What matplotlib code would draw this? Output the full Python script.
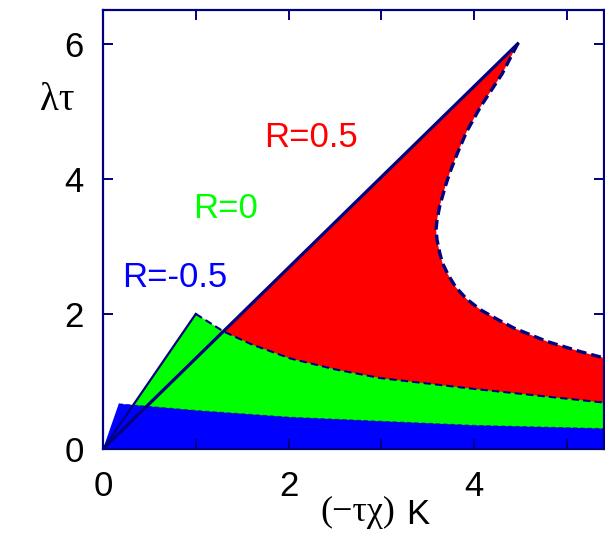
import matplotlib
matplotlib.use("Agg")
import matplotlib.pyplot as plt

# boundary of the R=0.5 region (dashed curve)
red_K = [4.47, 4.30, 4.07, 3.92, 3.82, 3.74, 3.69, 3.63, 3.60, 3.59, 3.60, 3.63,
         3.66, 3.72, 3.80, 3.92, 4.07, 4.25, 4.43, 4.79, 5.15, 5.45]
red_L = [6.00, 5.55, 5.07, 4.70, 4.38, 4.10, 3.89, 3.60, 3.39, 3.25, 3.10, 2.90,
         2.75, 2.58, 2.40, 2.22, 2.06, 1.92, 1.79, 1.59, 1.44, 1.33]

# upper boundary of the R=0 region
green_K = [1.00, 1.30, 1.60, 2.02, 2.50, 2.99, 4.00, 5.45]
green_L = [2.00, 1.74, 1.55, 1.34, 1.18, 1.05, 0.89, 0.68]

# upper boundary of the R=-0.5 region
blue_K = [0.17, 1.00, 2.02, 3.00, 4.00, 5.45]
blue_L = [0.67, 0.57, 0.47, 0.41, 0.35, 0.30]

navy = "#000080"
W, H = 605, 533

fig = plt.figure(figsize=(6.05, 5.33), dpi=100)
ax = fig.add_axes([103 / W, (H - 449) / H, 501 / W, 439 / H])

# filled regions, red under green under blue
ax.fill([0, red_K[0]] + red_K + [red_K[-1]], [0, red_L[0]] + red_L + [0],
        color="#ff0000", lw=0)
ax.fill([0] + green_K + [green_K[-1]], [0] + green_L + [0], color="#00ff00", lw=0)
ax.fill([0] + blue_K + [blue_K[-1]], [0] + blue_L + [0], color="#0000ff", lw=0)

# edges
ax.plot([0, green_K[0]], [0, green_L[0]], color=navy, lw=1.6)
ax.plot(red_K, red_L, color=navy, lw=2.4, dashes=(3, 1.5))
ax.plot(green_K, green_L, color=navy, lw=1.5, dashes=(3.5, 2))
ax.plot(blue_K, blue_L, color=navy, lw=0.8, dashes=(4, 2.5), alpha=0.6)
ax.plot([0, red_K[0]], [0, red_L[0]], color=navy, lw=2.3)

ax.set_xlim(0, 5.4)
ax.set_ylim(0, 6.5)
ax.set_xticks([0, 2, 4])
ax.set_xticks([1, 3, 5], minor=True)
ax.set_yticks([0, 2, 4, 6])
for s in ax.spines.values():
    s.set_color(navy)
    s.set_linewidth(1.6)
ax.tick_params(which="both", direction="in", length=7, width=1.4, color=navy,
               top=True, right=True, labelsize=25, labelcolor="black")
ax.tick_params(axis="x", pad=15)
ax.tick_params(axis="y", pad=14)
for lab in ax.get_xticklabels() + ax.get_yticklabels():
    lab.set_family("Liberation Sans")

def px(x, y):
    return x / W, 1 - y / H

fig.text(*px(264, 147), "R=0.5", color="#ff0000", fontsize=25,
         family="Liberation Sans", va="baseline")
fig.text(*px(193, 218), "R=0", color="#00ff00", fontsize=25,
         family="Liberation Sans", va="baseline")
fig.text(*px(122, 287), "R=-0.5", color="#0000ff", fontsize=25,
         family="Liberation Sans", va="baseline")

fig.text(*px(40, 110), "\u03bb\u03c4", fontsize=28, family="Liberation Serif",
         va="baseline")
fig.text(*px(320, 521), "(\u2212\u03c4\u03c7)", fontsize=26, family="Liberation Serif",
         va="baseline")
fig.text(*px(406, 524), "K", fontsize=25, family="Liberation Sans", va="baseline")

fig.savefig("out.png", dpi=100)
